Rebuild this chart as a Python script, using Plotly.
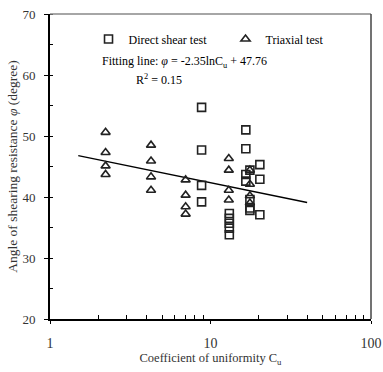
import plotly.graph_objects as go

# Direct shear test (squares)
ds_x = [8.8, 8.8, 8.8, 8.8,
        13.1, 13.1, 13.1, 13.1, 13.1,
        16.6, 16.6, 16.6, 16.6,
        17.6, 17.6, 17.6, 17.6,
        20.3, 20.3, 20.3]
ds_y = [54.7, 47.7, 41.9, 39.2,
        37.3, 36.5, 35.7, 34.9, 33.8,
        51.0, 47.9, 43.7, 42.6,
        44.4, 39.6, 38.2, 37.8,
        45.3, 42.9, 37.1]

# Triaxial test (triangles)
tx_x = [2.22, 2.22, 2.22, 2.22,
        4.26, 4.26, 4.26, 4.26,
        7.0, 7.0, 7.0, 7.0,
        13.0, 13.0, 13.0, 13.0,
        17.6, 17.6, 17.6, 17.6]
tx_y = [50.6, 47.3, 45.1, 43.7,
        48.5, 45.9, 43.3, 41.1,
        42.8, 40.3, 38.4, 37.2,
        46.3, 44.4, 41.1, 39.5,
        44.4, 42.1, 40.2, 39.0]

# Fitting line end points
fit_x = [1.5, 40]
fit_y = [46.8, 39.1]

font_family = "Liberation Serif, Times New Roman, serif"
ink = "#222222"

fig = go.Figure()
fig.add_trace(go.Scatter(x=fit_x, y=fit_y, mode="lines",
                         line=dict(color="black", width=1.3),
                         showlegend=False, hoverinfo="skip"))
fig.add_trace(go.Scatter(x=ds_x, y=ds_y, mode="markers", name="Direct shear test",
                         marker=dict(symbol="square-open", size=8,
                                     color=ink, line=dict(width=1.6, color=ink))))
fig.add_trace(go.Scatter(x=tx_x, y=tx_y, mode="markers", name="Triaxial test",
                         marker=dict(symbol="triangle-up-open", size=8,
                                     color=ink, line=dict(width=1.6, color=ink))))

fig.add_annotation(x=0.155, y=0.843, xref="paper", yref="paper",
                   text="Fitting line: <i>φ</i> = -2.35lnC<sub>u</sub> + 47.76",
                   showarrow=False, xanchor="left", yanchor="middle",
                   font=dict(family=font_family, size=12, color="black"))
fig.add_annotation(x=0.34, y=0.784, xref="paper", yref="paper",
                   text="R<sup>2</sup> = 0.15",
                   showarrow=False, xanchor="center", yanchor="middle",
                   font=dict(family=font_family, size=12, color="black"))

fig.update_layout(
    width=383, height=372,
    margin=dict(l=50, r=12, t=14, b=53),
    paper_bgcolor="white", plot_bgcolor="white",
    font=dict(family=font_family, size=13, color="#333333"),
    legend=dict(orientation="h", x=0.12, y=0.918, xanchor="left", yanchor="middle",
                bgcolor="rgba(0,0,0,0)", font=dict(size=12, color="black"),
                itemwidth=30, entrywidth=92, tracegroupgap=0),
    showlegend=True,
)

fig.update_xaxes(type="log", range=[0, 2], automargin=False,
                 tickvals=[1, 10, 100], ticktext=["1", "10", "100"],
                 tickfont=dict(size=14),
                 showgrid=False, zeroline=False,
                 showline=True, linecolor="black", linewidth=1.5,
                 ticks="outside", ticklen=3, tickcolor="black",
                 minor=dict(ticks="inside", ticklen=4, tickcolor="black",
                            tickvals=[2, 3, 4, 5, 6, 7, 8, 9, 20, 30, 40, 50, 60, 70, 80, 90],
                            showgrid=False),
                 title=dict(text="Coefficient of uniformity C<sub>u</sub>", standoff=4,
                            font=dict(size=12.5)),
                 ticklabelstandoff=7)

fig.update_yaxes(range=[20, 70], dtick=10, automargin=False,
                 tickfont=dict(size=13),
                 showgrid=False, zeroline=False,
                 showline=True, linecolor="black", linewidth=2,
                 ticks="outside", ticklen=4, tickcolor="black",
                 minor=dict(ticks="inside", ticklen=3, tickcolor="black", dtick=5,
                            showgrid=False),
                 ticklabelstandoff=6,
                 title=dict(text="Angle of shearing resistance <i>φ</i> (degree)", standoff=2,
                            font=dict(size=13.5)))

# top and right border of the frame
fig.add_shape(type="line", xref="paper", yref="paper", x0=0, x1=1, y0=1, y1=1,
              line=dict(color="#888888", width=1.5))
fig.add_shape(type="line", xref="paper", yref="paper", x0=1, x1=1, y0=0, y1=1,
              line=dict(color="#444444", width=1.5))

fig.write_html("out.html")
